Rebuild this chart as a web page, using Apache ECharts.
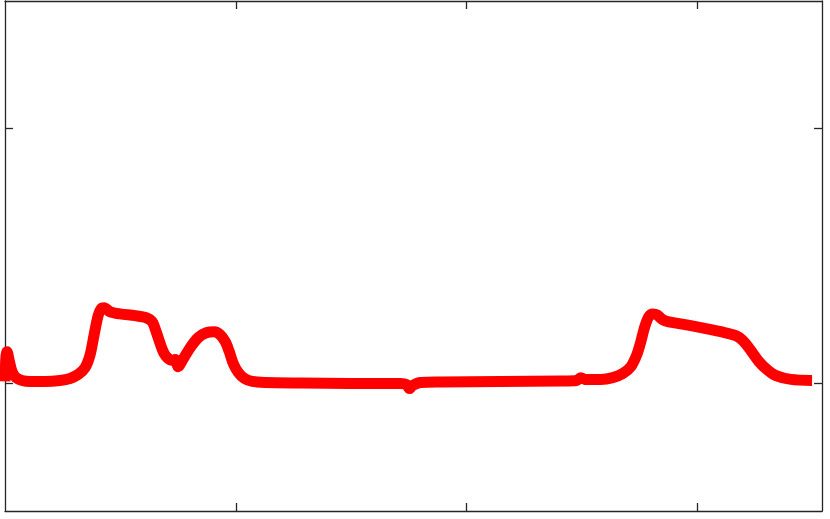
<!DOCTYPE html>
<html>
<head>
<meta charset="utf-8">
<script src="https://cdn.jsdelivr.net/npm/echarts@6/dist/echarts.min.js"></script>
<style>html,body{margin:0;padding:0;background:#fff;}#c{width:830px;height:519px;}</style>
</head>
<body>
<div id="c"></div>
<script>
const xValues = [0, 0.43, 0.87, 1.74, 3.04, 4.77, 7.38, 10.85, 17.35, 23.86, 28.20, 31.67, 34.71, 36.88, 38.61, 40.35, 41.65, 42.95, 45.55, 49.89, 56.40, 61.17, 63.77, 65.51, 67.25, 68.98, 70.72, 72.45, 73.75, 75.05, 76.79, 80.26, 83.73, 87.20, 90.67, 93.28, 95.44, 97.18, 98.92, 101.08, 103.69, 107.16, 112.80, 127.98, 149.67, 171.37, 173.97, 175.27, 176.57, 180.04, 188.72, 214.75, 240.78, 247.72, 249.46, 251.19, 258.13, 263.34, 267.68, 271.15, 273.75, 275.49, 277.22, 278.96, 280.69, 282.43, 285.03, 287.64, 292.84, 301.52, 310.20, 316.70, 319.74, 323.21, 326.68, 330.15, 334.06, 340.56, 349.7];
const yValues = [0.008, 0.109, 0.125, 0.094, 0.047, 0.023, 0.012, 0.008, 0.008, 0.012, 0.020, 0.035, 0.0625, 0.113, 0.191, 0.266, 0.293, 0.297, 0.281, 0.273, 0.266, 0.258, 0.242, 0.203, 0.156, 0.117, 0.098, 0.090, 0.094, 0.066, 0.090, 0.141, 0.180, 0.199, 0.203, 0.191, 0.164, 0.125, 0.078, 0.043, 0.020, 0.008, 0.004, 0.002, 0, 0, -0.004, -0.020, -0.008, 0.004, 0.006, 0.008, 0.010, 0.012, 0.023, 0.016, 0.016, 0.023, 0.039, 0.066, 0.113, 0.164, 0.223, 0.262, 0.273, 0.270, 0.25, 0.242, 0.234, 0.219, 0.203, 0.1875, 0.168, 0.129, 0.086, 0.055, 0.031, 0.016, 0.012];
const xTicks = [100, 200, 300];
const yTicks = [0, 1];

const data = xValues.map((x, i) => [x, yValues[i]]);
const frameColor = '#262626';
function xAx(pos) {
  return {
    type: 'value', position: pos, min: 0, max: 354,
    axisLine: { show: true, onZero: false, lineStyle: { color: frameColor, width: 1.3 } },
    axisTick: { show: true, inside: true, length: 8, customValues: xTicks, lineStyle: { color: frameColor, width: 1.3 } },
    axisLabel: { show: false }, splitLine: { show: false }
  };
}
function yAx(pos) {
  return {
    type: 'value', position: pos, min: -0.5, max: 1.5,
    axisLine: { show: true, onZero: false, lineStyle: { color: frameColor, width: 1.3 } },
    axisTick: { show: true, inside: true, length: 8, customValues: yTicks, lineStyle: { color: frameColor, width: 1.3 } },
    axisLabel: { show: false }, splitLine: { show: false }
  };
}
const chart = echarts.init(document.getElementById('c'), null, { renderer: 'canvas' });
chart.setOption({
  animation: false,
  backgroundColor: '#fff',
  grid: { left: 5, top: 1, width: 817, height: 510, containLabel: false },
  xAxis: [xAx('bottom'), xAx('top')],
  yAxis: [yAx('left'), yAx('right')],
  series: [{
    type: 'line', data: data, xAxisIndex: 0, yAxisIndex: 0,
    showSymbol: false, smooth: 0.3, clip: false,
    lineStyle: { color: '#ff0000', width: 11, cap: 'butt', join: 'round' }
  }]
});
</script>
</body>
</html>
